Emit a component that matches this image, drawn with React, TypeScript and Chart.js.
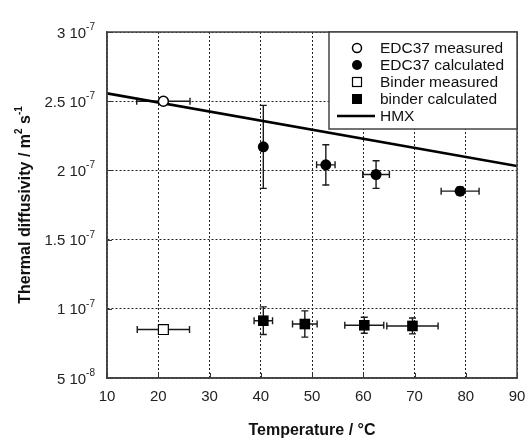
import React, { useEffect, useRef } from 'react';
import { Chart, registerables } from 'chart.js';

Chart.register(...registerables);

const FONT = '"Liberation Sans", Arial, Helvetica, sans-serif';

// ---- data ----
const edcMeasuredT = [21];
const edcMeasuredD = [2.5e-7];
const edcMeasuredTErr = [5.2];
const edcMeasuredDErr = [0];

const edcCalcT = [40.5, 52.7, 62.5, 78.9];
const edcCalcD = [2.17e-7, 2.04e-7, 1.97e-7, 1.85e-7];
const edcCalcTErr = [0, 1.8, 2.6, 3.7];
const edcCalcDErr = [3.0e-8, 1.45e-8, 1.0e-8, 0.3e-8];

const binderMeasuredT = [21];
const binderMeasuredD = [8.5e-8];
const binderMeasuredTErr = [5.1];
const binderMeasuredDErr = [0];

const binderCalcT = [40.5, 48.6, 60.2, 69.6];
const binderCalcD = [9.14e-8, 8.9e-8, 8.81e-8, 8.76e-8];
const binderCalcTErr = [1.8, 2.4, 3.8, 5.0];
const binderCalcDErr = [1.0e-8, 0.95e-8, 0.58e-8, 0.57e-8];

const hmxT = [10, 90];
const hmxD = [2.557e-7, 2.032e-7];

const xTickValues = [10, 20, 30, 40, 50, 60, 70, 80, 90];
const yTickValues = [5e-8, 1e-7, 1.5e-7, 2e-7, 2.5e-7, 3e-7];
const yTickMantissas = ['5', '1', '1.5', '2', '2.5', '3'];
const yTickExponents = ['-8', '-7', '-7', '-7', '-7', '-7'];

const legendLabels = ['EDC37 measured', 'EDC37 calculated', 'Binder measured', 'binder calculated', 'HMX'];
const xTitle = 'Temperature / °C';
const yTitleParts = ['Thermal diffusivity / m', '2', ' s', '-1'];

const toPoints = (xs: number[], ys: number[]) => xs.map((x, i) => ({ x, y: ys[i] }));

const errorBarPlugin = {
  id: 'errorBars',
  beforeDatasetsDraw(chart: any) {
    const { ctx, scales } = chart;
    const xs = scales.x;
    const ys = scales.y;
    ctx.save();
    ctx.strokeStyle = '#1a1a1a';
    ctx.lineWidth = 1.4;
    const cap = 3.5;
    chart.data.datasets.forEach((ds: any) => {
      if (!ds.errX && !ds.errY) return;
      ds.data.forEach((p: any, i: number) => {
        const px = xs.getPixelForValue(p.x);
        const py = ys.getPixelForValue(p.y);
        const ex = ds.errX ? ds.errX[i] : 0;
        const ey = ds.errY ? ds.errY[i] : 0;
        if (ex > 0) {
          const x1 = xs.getPixelForValue(p.x - ex);
          const x2 = xs.getPixelForValue(p.x + ex);
          ctx.beginPath();
          ctx.moveTo(x1, py);
          ctx.lineTo(x2, py);
          ctx.moveTo(x1, py - cap);
          ctx.lineTo(x1, py + cap);
          ctx.moveTo(x2, py - cap);
          ctx.lineTo(x2, py + cap);
          ctx.stroke();
        }
        if (ey > 0) {
          const y1 = ys.getPixelForValue(p.y - ey);
          const y2 = ys.getPixelForValue(p.y + ey);
          ctx.beginPath();
          ctx.moveTo(px, y1);
          ctx.lineTo(px, y2);
          ctx.moveTo(px - cap, y1);
          ctx.lineTo(px + cap, y1);
          ctx.moveTo(px - cap, y2);
          ctx.lineTo(px + cap, y2);
          ctx.stroke();
        }
      });
    });
    ctx.restore();
  },
};

const framePlugin = {
  id: 'frameAndLabels',
  afterDraw(chart: any) {
    const { ctx, chartArea: ca, scales } = chart;
    const xs = scales.x;
    const ys = scales.y;
    ctx.save();

    // inner tick marks
    ctx.strokeStyle = '#333';
    ctx.lineWidth = 1;
    ctx.setLineDash([]);
    xTickValues.forEach((v) => {
      const x = Math.round(xs.getPixelForValue(v)) + 0.5;
      ctx.beginPath();
      ctx.moveTo(x, ca.bottom);
      ctx.lineTo(x, ca.bottom - 5);
      ctx.stroke();
    });
    yTickValues.forEach((v) => {
      const y = Math.round(ys.getPixelForValue(v)) + 0.5;
      ctx.beginPath();
      ctx.moveTo(ca.left, y);
      ctx.lineTo(ca.left + 5, y);
      ctx.stroke();
    });

    // frame
    ctx.strokeStyle = '#444';
    ctx.lineWidth = 1.5;
    ctx.strokeRect(ca.left, ca.top, ca.right - ca.left, ca.bottom - ca.top);

    // y tick labels with superscript exponents
    ctx.fillStyle = '#222';
    ctx.textBaseline = 'alphabetic';
    ctx.textAlign = 'left';
    yTickValues.forEach((v, i) => {
      const y = ys.getPixelForValue(v);
      const main = yTickMantissas[i] + ' 10';
      const exp = yTickExponents[i];
      ctx.font = `15px ${FONT}`;
      const w1 = ctx.measureText(main).width;
      ctx.font = `10px ${FONT}`;
      const w2 = ctx.measureText(exp).width;
      const right = ca.left - 12;
      ctx.font = `15px ${FONT}`;
      ctx.fillText(main, right - w2 - w1, y + 5.5);
      ctx.font = `10px ${FONT}`;
      ctx.fillText(exp, right - w2, y - 2);
    });

    // y title (rotated) with superscripts
    ctx.save();
    ctx.translate(25, (ca.top + ca.bottom) / 2);
    ctx.rotate(-Math.PI / 2);
    ctx.fillStyle = '#111';
    const bigFont = `bold 16px ${FONT}`;
    const smallFont = `bold 10px ${FONT}`;
    const fonts = [bigFont, smallFont, bigFont, smallFont];
    const raise = [0, -7, 0, -7];
    let total = 0;
    const widths = yTitleParts.map((t, i) => {
      ctx.font = fonts[i];
      const w = ctx.measureText(t).width;
      total += w;
      return w;
    });
    let cx = -total / 2;
    ctx.textBaseline = 'middle';
    yTitleParts.forEach((t, i) => {
      ctx.font = fonts[i];
      ctx.fillText(t, cx, raise[i] + 1);
      cx += widths[i];
    });
    ctx.restore();

    // legend
    const lx = ca.right - 188;
    const ly = ca.top;
    const lw = 188;
    const lh = 97;
    ctx.fillStyle = '#fff';
    ctx.fillRect(lx, ly, lw, lh);
    ctx.strokeStyle = '#444';
    ctx.lineWidth = 1.5;
    ctx.strokeRect(lx, ly, lw, lh);

    const mx = lx + 28;
    const tx = lx + 51;
    ctx.font = `15.5px ${FONT}`;
    ctx.textBaseline = 'middle';
    ctx.textAlign = 'left';
    legendLabels.forEach((label, i) => {
      const yy = ly + 16 + i * 17;
      ctx.strokeStyle = '#000';
      ctx.fillStyle = '#000';
      if (i === 0) {
        ctx.beginPath();
        ctx.arc(mx, yy, 4.5, 0, Math.PI * 2);
        ctx.fillStyle = '#fff';
        ctx.fill();
        ctx.lineWidth = 1.5;
        ctx.stroke();
      } else if (i === 1) {
        ctx.beginPath();
        ctx.arc(mx, yy, 5, 0, Math.PI * 2);
        ctx.fill();
      } else if (i === 2) {
        ctx.fillStyle = '#fff';
        ctx.fillRect(mx - 4.5, yy - 4.5, 9, 9);
        ctx.lineWidth = 1.2;
        ctx.strokeRect(mx - 4.5, yy - 4.5, 9, 9);
      } else if (i === 3) {
        ctx.fillRect(mx - 5, yy - 5, 10, 10);
      } else {
        ctx.lineWidth = 2.5;
        ctx.beginPath();
        ctx.moveTo(lx + 8, yy);
        ctx.lineTo(lx + 46, yy);
        ctx.stroke();
      }
      ctx.fillStyle = '#111';
      ctx.fillText(label, tx, yy + 1);
    });

    ctx.restore();
  },
};

export default function App() {
  const canvasRef = useRef<HTMLCanvasElement | null>(null);

  useEffect(() => {
    const canvas = canvasRef.current;
    if (!canvas) return;
    const chart = new Chart(canvas, {
      type: 'scatter',
      data: {
        datasets: [
          {
            label: legendLabels[0],
            data: toPoints(edcMeasuredT, edcMeasuredD),
            errX: edcMeasuredTErr,
            errY: edcMeasuredDErr,
            pointStyle: 'circle',
            pointRadius: 5,
            pointBackgroundColor: '#fff',
            pointBorderColor: '#000',
            pointBorderWidth: 1.5,
            order: 1,
          } as any,
          {
            label: legendLabels[1],
            data: toPoints(edcCalcT, edcCalcD),
            errX: edcCalcTErr,
            errY: edcCalcDErr,
            pointStyle: 'circle',
            pointRadius: 5.5,
            pointBackgroundColor: '#000',
            pointBorderColor: '#000',
            pointBorderWidth: 0,
            order: 2,
          } as any,
          {
            label: legendLabels[2],
            data: toPoints(binderMeasuredT, binderMeasuredD),
            errX: binderMeasuredTErr,
            errY: binderMeasuredDErr,
            pointStyle: 'rect',
            pointRadius: 7,
            pointBackgroundColor: '#fff',
            pointBorderColor: '#000',
            pointBorderWidth: 1.2,
            order: 3,
          } as any,
          {
            label: legendLabels[3],
            data: toPoints(binderCalcT, binderCalcD),
            errX: binderCalcTErr,
            errY: binderCalcDErr,
            pointStyle: 'rect',
            pointRadius: 7.5,
            pointBackgroundColor: '#000',
            pointBorderColor: '#000',
            pointBorderWidth: 0,
            order: 4,
          } as any,
          {
            label: legendLabels[4],
            data: toPoints(hmxT, hmxD),
            showLine: true,
            borderColor: '#000',
            borderWidth: 2.6,
            pointRadius: 0,
            order: 10,
          } as any,
        ],
      },
      options: {
        animation: false,
        responsive: false,
        maintainAspectRatio: false,
        layout: { padding: { top: 32, right: 11, left: 0, bottom: 0 } },
        plugins: {
          legend: { display: false },
          tooltip: { enabled: false },
        },
        scales: {
          x: {
            type: 'linear',
            min: 10,
            max: 90,
            afterBuildTicks: (s: any) => {
              s.ticks = xTickValues.map((v) => ({ value: v }));
            },
            afterFit: (s: any) => {
              s.height = 62;
              s.paddingLeft = 0;
              s.paddingRight = 0;
            },
            ticks: {
              font: { family: FONT, size: 15 },
              color: '#222',
              padding: 10,
              maxRotation: 0,
              autoSkip: false,
            },
            grid: {
              color: '#222',
              lineWidth: 1,
              drawTicks: false,
            },
            border: { display: true, color: '#444', width: 1.5, dash: [2, 2] },
            title: {
              display: true,
              text: xTitle,
              font: { family: FONT, size: 16, weight: 'bold' },
              color: '#111',
              padding: { top: 2, bottom: 0 },
            },
          },
          y: {
            type: 'linear',
            min: 5e-8,
            max: 3e-7,
            afterBuildTicks: (s: any) => {
              s.ticks = yTickValues.map((v) => ({ value: v }));
            },
            afterFit: (s: any) => {
              s.width = 107;
              s.paddingTop = 0;
              s.paddingBottom = 0;
            },
            ticks: { display: false },
            grid: {
              color: '#222',
              lineWidth: 1,
              drawTicks: false,
            },
            border: { display: true, color: '#444', width: 1.5, dash: [2, 2] },
            title: { display: false },
          },
        },
      },
      plugins: [errorBarPlugin, framePlugin],
    } as any);
    return () => chart.destroy();
  }, []);

  return (
    <div style={{ position: 'fixed', left: 0, top: 0, width: 528, height: 440, background: '#fff' }}>
      <canvas ref={canvasRef} width={528} height={440} style={{ width: 528, height: 440, display: 'block' }} />
    </div>
  );
}
